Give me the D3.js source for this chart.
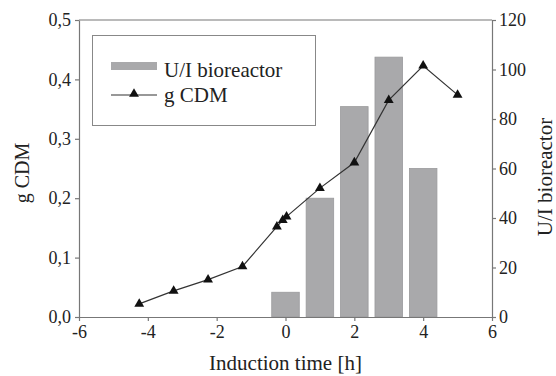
<!DOCTYPE html>
<html>
<head>
<meta charset="utf-8">
<script src="https://cdn.jsdelivr.net/npm/d3@7"></script>
<style>
  html, body { margin: 0; padding: 0; background: #fff; }
  svg { display: block; }
  text { font-family: "Liberation Serif", "DejaVu Serif", serif; fill: #222; }
</style>
</head>
<body>
<svg id="chart" width="556" height="376"></svg>
<script>
// Induction time (h) for the biomass samples and measured cell dry mass (g)
const cdmTimes = [-4.25, -3.25, -2.25, -1.25, -0.25, -0.08, 0.03, 1, 2, 3, 4, 5];
const cdmValues = [0.022, 0.044, 0.063, 0.085, 0.152, 0.163, 0.169, 0.217, 0.26, 0.365, 0.423, 0.374];

// Volumetric activity in the bioreactor (U/l) per induction hour
const barTimes = [0, 1, 2, 3, 4];
const barValues = [10, 48, 85, 105, 60];

// Axis ticks
const xTicks = [-6, -4, -2, 0, 2, 4, 6];
const leftTicks = [0, 0.1, 0.2, 0.3, 0.4, 0.5];
const rightTicks = [0, 20, 40, 60, 80, 100, 120];

const serif = '"Liberation Serif", "DejaVu Serif", serif';
const svg = d3.select("#chart");
const m = { left: 79, right: 492, top: 20, bottom: 317 };

const x = d3.scaleLinear().domain([-6, 6]).range([m.left, m.right]);
const yL = d3.scaleLinear().domain([0, 0.5]).range([m.bottom, m.top]);
const yR = d3.scaleLinear().domain([0, 120]).range([m.bottom, m.top]);

const axisColor = "#777";
const comma = d => d3.format(".1f")(d).replace(".", ",");
const hyphen = d => String(d).replace("\u2212", "-");

// Bars (right axis)
const barW = x(0.4) - x(-0.4);
svg.append("g").selectAll("rect")
  .data(barTimes.map((t, i) => ({ t, v: barValues[i] })))
  .join("rect")
  .attr("x", d => x(d.t) - barW / 2)
  .attr("y", d => yR(d.v))
  .attr("width", barW)
  .attr("height", d => yR(0) - yR(d.v))
  .attr("fill", "#a9a9ab")
  .attr("stroke", "#9a9a9c")
  .attr("stroke-width", 0.8);

// Frame top line
svg.append("line")
  .attr("x1", m.left).attr("x2", m.right)
  .attr("y1", m.top).attr("y2", m.top)
  .attr("stroke", axisColor).attr("stroke-width", 1.2);

function styleAxis(g) {
  g.attr("font-family", null).attr("font-size", null);
  g.select(".domain").attr("stroke", axisColor).attr("stroke-width", 1.2);
  g.selectAll(".tick line").attr("stroke", axisColor).attr("stroke-width", 1.2);
  g.selectAll(".tick text")
    .style("font-family", serif)
    .style("font-size", "18px")
    .attr("fill", "#333");
}

// Bottom axis
svg.append("g")
  .attr("transform", `translate(0,${m.bottom})`)
  .call(d3.axisBottom(x).tickValues(xTicks).tickFormat(hyphen).tickSize(4).tickSizeOuter(0).tickPadding(4))
  .call(styleAxis);

// Left axis
svg.append("g")
  .attr("transform", `translate(${m.left},0)`)
  .call(d3.axisLeft(yL).tickValues(leftTicks).tickFormat(comma).tickSize(4).tickSizeOuter(0).tickPadding(4))
  .call(styleAxis);

// Right axis
svg.append("g")
  .attr("transform", `translate(${m.right},0)`)
  .call(d3.axisRight(yR).tickValues(rightTicks).tickSize(4).tickSizeOuter(0).tickPadding(3))
  .call(styleAxis);

// g CDM line (left axis)
const line = d3.line().x(d => x(d.t)).y(d => yL(d.v));
const cdm = cdmTimes.map((t, i) => ({ t, v: cdmValues[i] }));
svg.append("path")
  .datum(cdm)
  .attr("d", line)
  .attr("fill", "none")
  .attr("stroke", "#333")
  .attr("stroke-width", 1.2);

const tri = d3.symbol().type(d3.symbolTriangle).size(42);
svg.append("g").selectAll("path")
  .data(cdm)
  .join("path")
  .attr("d", tri)
  .attr("transform", d => `translate(${x(d.t)},${yL(d.v)})`)
  .attr("fill", "#111");

// Axis titles
svg.append("text")
  .attr("x", (m.left + m.right) / 2)
  .attr("y", 370)
  .attr("text-anchor", "middle")
  .attr("font-size", 21)
  .text("Induction time [h]");

svg.append("text")
  .attr("transform", "translate(29,173) rotate(-90)")
  .attr("text-anchor", "middle")
  .attr("font-size", 20)
  .text("g CDM");

svg.append("text")
  .attr("transform", "translate(552,177) rotate(-90)")
  .attr("text-anchor", "middle")
  .attr("font-size", 21)
  .text("U/I bioreactor");

// Legend
const lg = svg.append("g");
lg.append("rect")
  .attr("x", 92.5).attr("y", 35.5).attr("width", 223).attr("height", 90)
  .attr("fill", "#fff").attr("stroke", "#888").attr("stroke-width", 1);
lg.append("rect")
  .attr("x", 111).attr("y", 62).attr("width", 46).attr("height", 8)
  .attr("fill", "#a9a9ab");
lg.append("text").attr("x", 164).attr("y", 77).attr("font-size", 21).text("U/I bioreactor");
lg.append("line")
  .attr("x1", 111).attr("x2", 157).attr("y1", 95).attr("y2", 95)
  .attr("stroke", "#333").attr("stroke-width", 1.2);
lg.append("path").attr("d", tri).attr("transform", "translate(134,94)").attr("fill", "#111");
lg.append("text").attr("x", 164).attr("y", 102).attr("font-size", 21).text("g CDM");
</script>
</body>
</html>
